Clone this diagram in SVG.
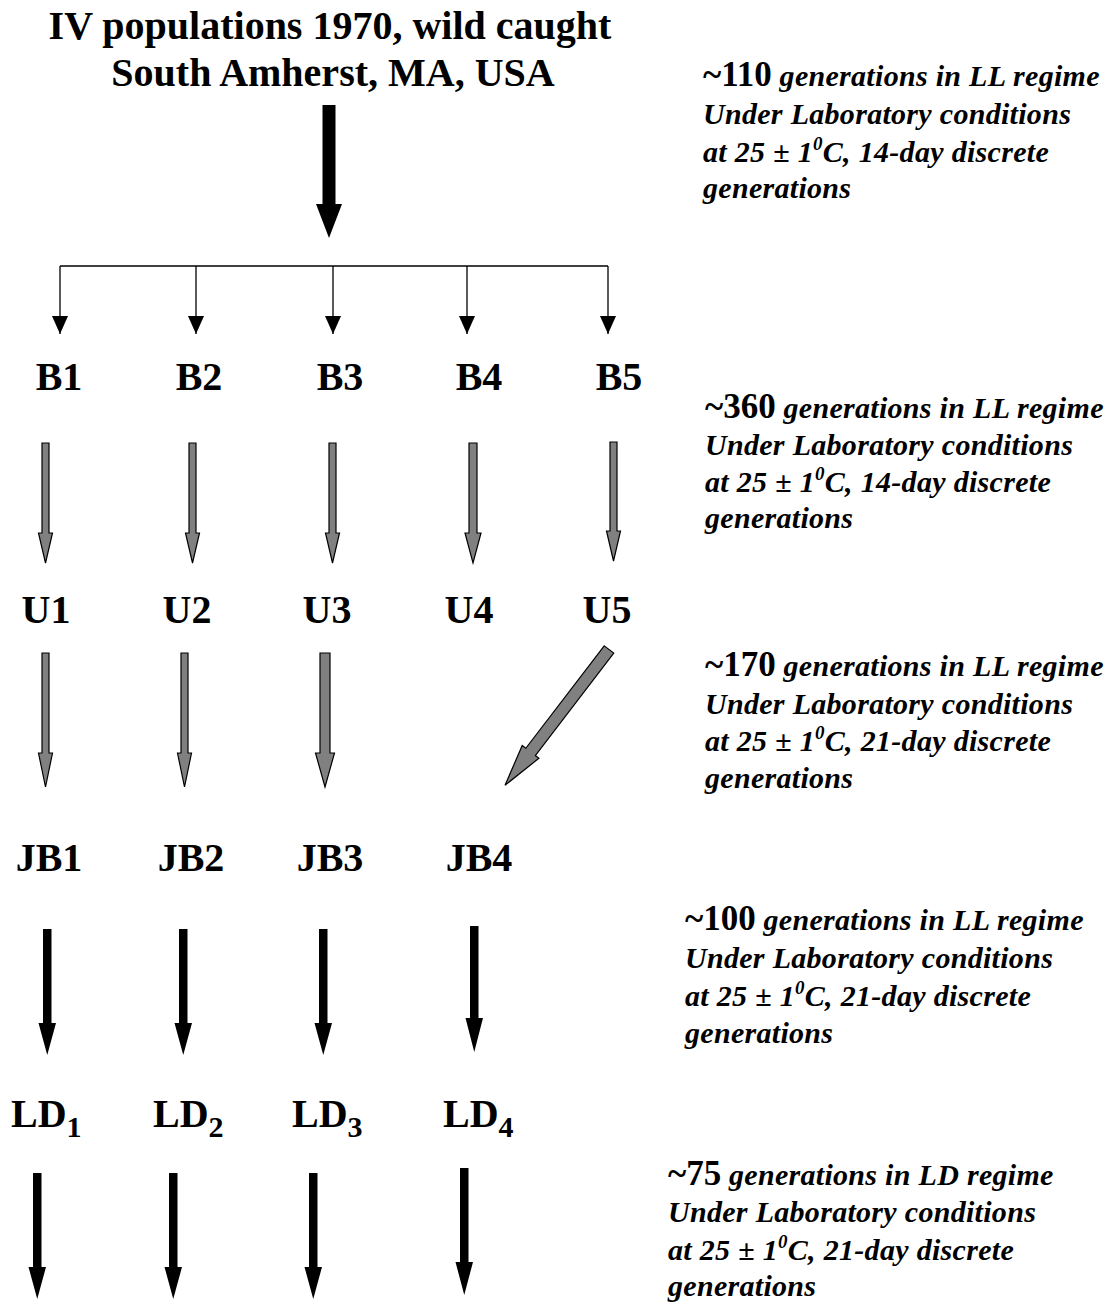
<svg xmlns="http://www.w3.org/2000/svg" width="1115" height="1302" viewBox="0 0 1115 1302">
<style>
  .t{font-family:"Liberation Serif","Times New Roman",serif;font-weight:bold;fill:#000}
  .title{font-size:40px;text-anchor:middle}
  .lab{font-size:40px;text-anchor:middle}
  .labs{font-size:40px}
  .sub{font-size:30px}
  .note{font-size:30px;font-style:italic;letter-spacing:0.3px}
  .num{font-size:35px;font-style:normal;letter-spacing:0}
  .sup{font-size:19px}
  .gray{fill:#808080;stroke:#000;stroke-width:1.2;stroke-linejoin:miter}
  .blk{fill:#000;stroke:none}
  .thin{stroke:#000;stroke-width:1.3;fill:none}
</style>
<defs>
  <marker id="ah" markerWidth="18" markerHeight="16" refX="18" refY="8" orient="auto" markerUnits="userSpaceOnUse" viewBox="0 0 18 16">
    <path d="M0,0 L18,8 L0,16 Z" fill="#000"/>
  </marker>
</defs>

<g id="title">
  <text class="t title" x="330" y="39">IV populations 1970, wild caught</text>
  <text class="t title" x="333" y="86">South Amherst, MA, USA</text>
</g>

<g id="nodes-B">
  <g id="B1"><text class="t lab" x="59" y="390">B1</text></g>
  <g id="B2"><text class="t lab" x="199" y="390">B2</text></g>
  <g id="B3"><text class="t lab" x="340" y="390">B3</text></g>
  <g id="B4"><text class="t lab" x="479" y="390">B4</text></g>
  <g id="B5"><text class="t lab" x="619" y="390">B5</text></g>
</g>
<g id="nodes-U">
  <g id="U1"><text class="t lab" x="46" y="623">U1</text></g>
  <g id="U2"><text class="t lab" x="187" y="623">U2</text></g>
  <g id="U3"><text class="t lab" x="327" y="623">U3</text></g>
  <g id="U4"><text class="t lab" x="469" y="623">U4</text></g>
  <g id="U5"><text class="t lab" x="607" y="623">U5</text></g>
</g>
<g id="nodes-JB">
  <g id="JB1"><text class="t lab" x="49" y="871">JB1</text></g>
  <g id="JB2"><text class="t lab" x="191" y="871">JB2</text></g>
  <g id="JB3"><text class="t lab" x="330" y="871">JB3</text></g>
  <g id="JB4"><text class="t lab" x="479" y="871">JB4</text></g>
</g>
<g id="nodes-LD">
  <g id="LD1"><text class="t labs" x="11" y="1127">LD<tspan class="sub" dy="10">1</tspan></text></g>
  <g id="LD2"><text class="t labs" x="153" y="1127">LD<tspan class="sub" dy="10">2</tspan></text></g>
  <g id="LD3"><text class="t labs" x="292" y="1127">LD<tspan class="sub" dy="10">3</tspan></text></g>
  <g id="LD4"><text class="t labs" x="443" y="1127">LD<tspan class="sub" dy="10">4</tspan></text></g>
</g>

<g id="notes">
  <g id="note1">
    <text class="t note" x="703" y="86"><tspan class="num">~110</tspan> generations in LL regime</text>
    <text class="t note" x="703" y="124">Under Laboratory conditions</text>
    <text class="t note" x="703" y="162">at 25 ± 1<tspan class="sup" dy="-12">0</tspan><tspan dy="12">C, 14-day discrete</tspan></text>
    <text class="t note" x="703" y="198">generations</text>
  </g>
  <g id="note2">
    <text class="t note" x="705" y="418"><tspan class="num">~360</tspan> generations in LL regime</text>
    <text class="t note" x="705" y="455">Under Laboratory conditions</text>
    <text class="t note" x="705" y="492">at 25 ± 1<tspan class="sup" dy="-12">0</tspan><tspan dy="12">C, 14-day discrete</tspan></text>
    <text class="t note" x="705" y="528">generations</text>
  </g>
  <g id="note3">
    <text class="t note" x="705" y="676"><tspan class="num">~170</tspan> generations in LL regime</text>
    <text class="t note" x="705" y="714">Under Laboratory conditions</text>
    <text class="t note" x="705" y="751">at 25 ± 1<tspan class="sup" dy="-12">0</tspan><tspan dy="12">C, 21-day discrete</tspan></text>
    <text class="t note" x="705" y="788">generations</text>
  </g>
  <g id="note4">
    <text class="t note" x="685" y="930"><tspan class="num">~100</tspan> generations in LL regime</text>
    <text class="t note" x="685" y="968">Under Laboratory conditions</text>
    <text class="t note" x="685" y="1006">at 25 ± 1<tspan class="sup" dy="-12">0</tspan><tspan dy="12">C, 21-day discrete</tspan></text>
    <text class="t note" x="685" y="1043">generations</text>
  </g>
  <g id="note5">
    <text class="t note" x="668" y="1185"><tspan class="num">~75</tspan> generations in LD regime</text>
    <text class="t note" x="668" y="1222">Under Laboratory conditions</text>
    <text class="t note" x="668" y="1260">at 25 ± 1<tspan class="sup" dy="-12">0</tspan><tspan dy="12">C, 21-day discrete</tspan></text>
    <text class="t note" x="668" y="1296">generations</text>
  </g>
</g>

<g id="connectors">
  <!-- main arrow -->
  <path class="blk" d="M322.5,105 H335.5 V204 H342 L329,238 L316,204 H322.5 Z"/>
  <!-- branch -->
  <path class="thin" d="M60,266 H608"/>
  <path class="thin" d="M60,266 V334" marker-end="url(#ah)"/>
  <path class="thin" d="M196,266 V334" marker-end="url(#ah)"/>
  <path class="thin" d="M333,266 V334" marker-end="url(#ah)"/>
  <path class="thin" d="M467,266 V334" marker-end="url(#ah)"/>
  <path class="thin" d="M608,266 V334" marker-end="url(#ah)"/>
  <!-- B to U gray arrows -->
  <path class="gray" d="M42,443 H49 V533 H52.5 L45.5,563 L38.5,533 H42 Z"/>
  <path class="gray" d="M189,443 H196 V533 H199.5 L192.5,563 L185.5,533 H189 Z"/>
  <path class="gray" d="M329,443 H336 V533 H339.5 L332.5,563 L325.5,533 H329 Z"/>
  <path class="gray" d="M469,443 H477 V533 H481 L473,563 L465,533 H469 Z"/>
  <path class="gray" d="M610,442 H617 V531 H620.5 L613.5,561 L606.5,531 H610 Z"/>
  <!-- U to JB gray arrows -->
  <path class="gray" d="M42,653 H49 V753 H52.5 L45.5,787 L38.5,753 H42 Z"/>
  <path class="gray" d="M181,653 H188 V753 H191.5 L184.5,787 L177.5,753 H181 Z"/>
  <path class="gray" d="M320,653 H330 V753 H334.5 L325,787 L315.5,753 H320 Z"/>
  <path class="gray" transform="translate(609,649.5) rotate(37.45)" d="M-6,0 H6 V129 H10.5 L0,171 L-10.5,129 H-6 Z"/>
  <!-- JB to LD black arrows -->
  <path class="blk" d="M43,929 H51.5 V1023 H56 L47.25,1055 L38.5,1023 H43 Z"/>
  <path class="blk" d="M179,929 H187.5 V1023 H192 L183.25,1055 L174.5,1023 H179 Z"/>
  <path class="blk" d="M319,929 H327.5 V1023 H332 L323.25,1055 L314.5,1023 H319 Z"/>
  <path class="blk" d="M470,926 H478.5 V1018 H483 L474.25,1052 L465.5,1018 H470 Z"/>
  <!-- LD onward black arrows -->
  <path class="blk" d="M33,1173 H41.5 V1267 H46 L37.25,1299 L28.5,1267 H33 Z"/>
  <path class="blk" d="M169,1173 H177.5 V1267 H182 L173.25,1299 L164.5,1267 H169 Z"/>
  <path class="blk" d="M309,1173 H317.5 V1267 H322 L313.25,1299 L304.5,1267 H309 Z"/>
  <path class="blk" d="M460,1168 H468.5 V1262 H473 L464.25,1295 L455.5,1262 H460 Z"/>
</g>
</svg>
